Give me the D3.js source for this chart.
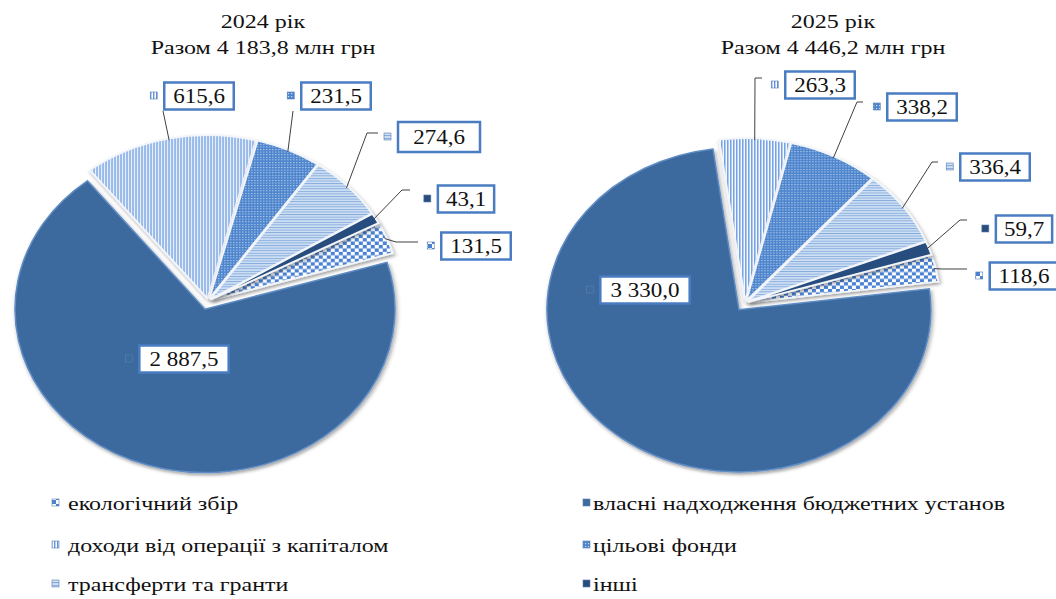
<!DOCTYPE html>
<html>
<head>
<meta charset="utf-8">
<script src="https://cdn.jsdelivr.net/npm/d3@7"></script>
<style>
  body { margin: 0; background: #fff; }
  text { font-family: "Liberation Serif", "Tinos", "Noto Serif", "DejaVu Serif", serif; fill: #111; }
</style>
</head>
<body>
<svg id="chart" width="1056" height="599"></svg>
<script>
// data, in legend order (row by row)
const categories = [
    "екологічний збір",
    "власні надходження бюджетних установ",
    "доходи від операції з капіталом",
    "цільові фонди",
    "трансферти та гранти",
    "інші"
];
const values2024 = [131.5, 2887.5, 615.6, 231.5, 274.6, 43.1];
const values2025 = [118.6, 3330.0, 263.3, 338.2, 336.4, 59.7];
const years = ["2024", "2025"];
const totals = ["4 183,8", "4 446,2"];

// one fill per category (patterns defined below)
const fills = ["url(#pEco)", "#3e6a9e", "url(#pCap)", "url(#pTgt)", "url(#pTr)", "#284d7d"];

// hand placed data labels (box centre, leader elbow/tail), like the Excel original
const labels2024 = [
    {x: 476, y: 246, elbow: [396, 242], tail: [418, 242]},
    {x: 184, y: 359},
    {x: 199, y: 96, elbow: [163, 111], tail: [163, 111]},
    {x: 336, y: 96, elbow: [293, 111], tail: [293, 111]},
    {x: 439, y: 137, w: 82, h: 30, elbow: [367, 133], tail: [378, 133]},
    {x: 466, y: 199, elbow: [402, 190], tail: [410, 190]}
];
const labels2025 = [
    {x: 1024, y: 276, elbow: [942, 269], tail: [967, 269]},
    {x: 645, y: 290},
    {x: 820, y: 85, elbow: [755, 78], tail: [762, 78]},
    {x: 922, y: 107, elbow: [857, 102], tail: [863, 102]},
    {x: 995, y: 167, elbow: [932, 162], tail: [938, 162]},
    {x: 1024, y: 229, elbow: [960, 220], tail: [967, 220]}
];

const charts = [
    {values: values2024, labels: labels2024, cx: 208, cy: 301, r: 190, ky: 0.86, start: 62, titleX: 263},
    {values: values2025, labels: labels2025, cx: 745, cy: 303, r: 192, ky: 0.845, start: 73, titleX: 833}
];

// the source picture is a bit wider than tall, so text is stretched sideways
const LABEL_STRETCH = 1.15;
const TEXT_STRETCH = 1.23;
const uaFormat = d3.formatLocale({decimal: ",", thousands: " ", grouping: [3], currency: ["", ""]}).format(",.1f");

const svg = d3.select("#chart");
const defs = svg.append("defs");

function stretch(sel, k) {
    sel.each(function () {
        const len = this.getComputedTextLength();
        this.setAttribute("textLength", len * k);
        this.setAttribute("lengthAdjust", "spacingAndGlyphs");
    });
}

// patterns
let p = defs.append("pattern").attr("id", "pEco").attr("patternUnits", "userSpaceOnUse")
    .attr("width", 8).attr("height", 8);
p.append("rect").attr("width", 8).attr("height", 8).attr("fill", "#ffffff");
p.append("rect").attr("width", 4).attr("height", 4).attr("fill", "#4a82d2");
p.append("rect").attr("x", 4).attr("y", 4).attr("width", 4).attr("height", 4).attr("fill", "#4a82d2");

p = defs.append("pattern").attr("id", "pCap").attr("patternUnits", "userSpaceOnUse")
    .attr("width", 3).attr("height", 6);
p.append("rect").attr("width", 3).attr("height", 6).attr("fill", "#ffffff");
p.append("rect").attr("width", 1.4).attr("height", 6).attr("fill", "#5f93dc");

p = defs.append("pattern").attr("id", "pTgt").attr("patternUnits", "userSpaceOnUse")
    .attr("width", 3).attr("height", 3);
p.append("rect").attr("width", 3).attr("height", 3).attr("fill", "#4d84cd");
p.append("rect").attr("width", 1.2).attr("height", 1.2).attr("fill", "#c8dcf4");

p = defs.append("pattern").attr("id", "pTr").attr("patternUnits", "userSpaceOnUse")
    .attr("width", 6).attr("height", 3);
p.append("rect").attr("width", 6).attr("height", 3).attr("fill", "#cfe0f4");
p.append("rect").attr("width", 6).attr("height", 1.1).attr("fill", "#86acdd");

const shadow = defs.append("filter").attr("id", "shadow")
    .attr("x", "-20%").attr("y", "-20%").attr("width", "140%").attr("height", "140%");
shadow.append("feDropShadow").attr("dx", 1.5).attr("dy", 2.5).attr("stdDeviation", 2)
    .attr("flood-color", "#000").attr("flood-opacity", 0.35);

const toRad = Math.PI / 180;

charts.forEach(function (c, ci) {
    const pie = d3.pie().sort(null).value(d => d)
        .startAngle(c.start * toRad).endAngle(c.start * toRad + 2 * Math.PI);
    const arc = d3.arc().innerRadius(0).outerRadius(c.r);
    const arcs = pie(c.values);

    // how far each slice is pulled out
    const explode = arcs.map(a => a.index === 1 ? 10 : 3);

    const g = svg.append("g")
        .attr("transform", "translate(" + c.cx + "," + c.cy + ") scale(1," + c.ky + ")");

    g.selectAll("path").data(arcs).enter().append("path")
        .attr("d", arc)
        .attr("transform", function (d, i) {
            const mid = (d.startAngle + d.endAngle) / 2;
            return "translate(" + (Math.sin(mid) * explode[i]) + "," + (-Math.cos(mid) * explode[i]) + ")";
        })
        .attr("fill", (d, i) => fills[i])
        .attr("stroke", (d, i) => i === 1 ? "#5f8cc4" : "#f2f5fa")
        .attr("stroke-width", (d, i) => i === 1 ? 1.5 : 1.8)
        .attr("vector-effect", "non-scaling-stroke")
        .attr("filter", "url(#shadow)");

    // leader lines
    const lg = svg.append("g");
    arcs.forEach(function (d, i) {
        const lab = c.labels[i];
        if (!lab.elbow) return;
        const mid = (d.startAngle + d.endAngle) / 2;
        const rr = c.r + explode[i] - 2;
        const ex = c.cx + Math.sin(mid) * rr;
        const ey = c.cy - Math.cos(mid) * rr * c.ky;
        lg.append("path")
            .attr("d", d3.line()([[ex, ey], lab.elbow, lab.tail]))
            .attr("fill", "none")
            .attr("stroke", "#404040")
            .attr("stroke-width", 1);
    });

    // data labels
    arcs.forEach(function (d, i) {
        const lab = c.labels[i];
        const lbl = svg.append("g");
        const box = lbl.append("rect");
        const t = lbl.append("text")
            .attr("x", lab.x).attr("y", lab.y).attr("dy", "0.35em")
            .attr("text-anchor", "middle")
            .attr("font-size", 20)
            .text(uaFormat(c.values[i]));
        stretch(t, LABEL_STRETCH);
        const tw = t.node().getComputedTextLength() * LABEL_STRETCH;
        const w = lab.w || tw + 10;
        const h = lab.h || 27;
        box.attr("x", lab.x - w / 2).attr("y", lab.y - h / 2)
            .attr("width", w).attr("height", h)
            .attr("fill", "#fff")
            .attr("stroke", "#4a7cc2").attr("stroke-width", 2.5);
        lbl.append("rect")
            .attr("x", lab.x - w / 2 - 14).attr("y", lab.y - 4)
            .attr("width", 7).attr("height", 7)
            .attr("fill", fills[i])
            .attr("stroke", "#5b7fae").attr("stroke-width", 0.6);
    });

    // title
    const t1 = svg.append("text")
        .attr("x", c.titleX).attr("y", 28).attr("text-anchor", "middle").attr("font-size", 19.5)
        .text(years[ci] + " рік");
    const t2 = svg.append("text")
        .attr("x", c.titleX).attr("y", 54).attr("text-anchor", "middle").attr("font-size", 19.5)
        .text("Разом " + totals[ci] + " млн грн");
    stretch(t1, TEXT_STRETCH);
    stretch(t2, TEXT_STRETCH);
});

// legend, two columns filled row by row
const legendCols = [{icon: 52, text: 68}, {icon: 583, text: 593}];
const legendRows = [503, 545, 584];
const leg = svg.append("g").selectAll("g").data(categories).enter().append("g");
leg.append("rect")
    .attr("x", (d, i) => legendCols[i % 2].icon)
    .attr("y", (d, i) => legendRows[Math.floor(i / 2)] - 4)
    .attr("width", 7).attr("height", 7)
    .attr("fill", (d, i) => fills[i])
    .attr("stroke", "#5b7fae").attr("stroke-width", 0.6);
const legText = leg.append("text")
    .attr("x", (d, i) => legendCols[i % 2].text)
    .attr("y", (d, i) => legendRows[Math.floor(i / 2)])
    .attr("dy", "0.35em")
    .attr("font-size", 19.5)
    .text(d => d);
stretch(legText, TEXT_STRETCH);
</script>
</body>
</html>
